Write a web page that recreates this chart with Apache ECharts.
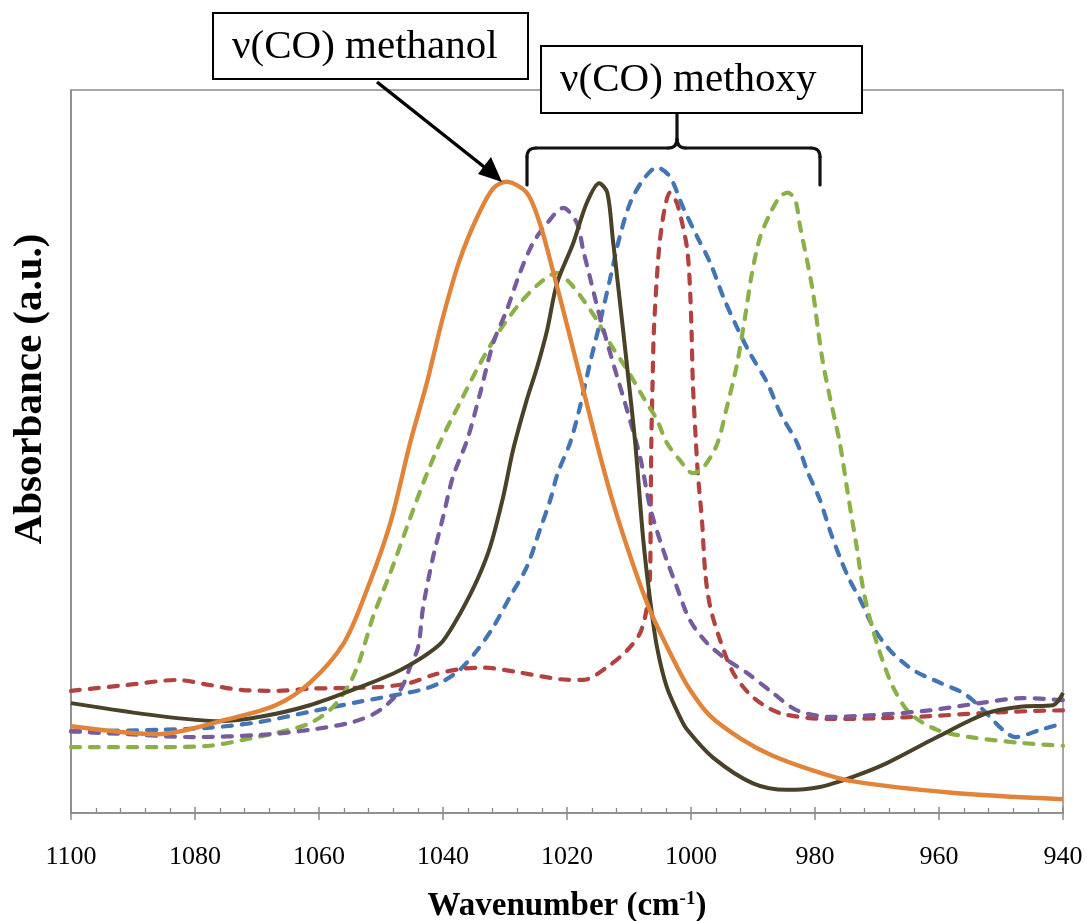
<!DOCTYPE html>
<html>
<head>
<meta charset="utf-8">
<script src="https://cdn.jsdelivr.net/npm/echarts@6/dist/echarts.min.js"></script>
<style>
  html, body { margin: 0; padding: 0; background: #fff; }
  #chart { width: 1087px; height: 921px; }
</style>
</head>
<body>
<div id="chart"></div>
<script>
// Infrared spectra in the C–O stretching region (absorbance in arbitrary units)
const xTicks = [1100, 1080, 1060, 1040, 1020, 1000, 980, 960, 940];

// methanol (solid orange)
const wnOrange = [1100,1086,1075,1067,1061.5,1056,1052.3,1048.5,1045.3,1042.6,1040,1037.3,1034.5,1031.9,1029.8,1026.5,1024.4,1022.3,1020,1017.5,1015,1012.6,1009.4,1006.6,1003,1000.5,997,992,987,980,974,958,940];
const absOrange = [12.0,10.9,12.9,14.9,18.0,23.5,30.8,40.1,51.2,59.5,68.6,76.5,82.4,86.4,87.3,85.8,81.6,75.1,67.5,59.0,50.5,43.0,34.5,28.0,21.5,17.5,13.5,10.3,8.0,5.8,4.4,2.8,1.9];

// solid dark olive
const wnDark = [1100,1085.6,1076,1069.5,1061.5,1053.4,1048,1045.3,1042.5,1040,1037.3,1034.5,1032.4,1030.3,1028.7,1026.5,1024.8,1023.2,1021.6,1019,1016.8,1014.8,1013.5,1012.6,1011.5,1010.3,1009,1007.7,1006.6,1005.5,1003.9,1001.8,1000.6,996.5,990,984.5,979.2,973.9,968.4,960.3,952.3,946.9,941.6,940];
const absDark = [15.2,13.4,12.7,13.3,14.9,17.4,19.3,20.5,22.0,23.8,27.5,32.2,36.8,43.7,50.2,57.1,61.7,66.8,73.3,78.8,84.4,87.1,85.8,79.3,71.0,61.7,51.2,37.8,29.5,23.0,17.4,13.3,11.5,7.7,4.1,3.2,3.6,5.0,6.9,10.5,13.8,14.7,14.9,16.6];

// dashed purple
const wnPurple = [1100,1091,1080.3,1069.5,1061.5,1054.5,1050.2,1046.9,1045.3,1044,1043.2,1041.6,1040,1038.4,1036.1,1034,1031.9,1029.7,1027.6,1025.5,1023.2,1020.6,1018.4,1017.4,1016.3,1015,1013.5,1011.9,1010.3,1008.2,1006.6,1004.5,1002.3,1000.2,997.4,994.2,991,986.8,982.9,977.6,969.5,961.5,953.4,946.5,940];
const absPurple = [11.3,10.9,10.5,10.8,11.5,12.6,14.2,17.0,20.2,23.0,28.5,35.4,40.9,46.5,51.6,58.1,65.0,69.6,74.7,78.8,81.6,83.7,81.6,77.9,74.1,69.6,65.0,60.3,55.7,49.2,42.3,36.4,31.3,26.7,23.5,21.2,19.4,16.6,14.2,13.3,13.6,14.2,15.2,15.9,15.6];

// dashed green
const wnGreen = [1100,1085.6,1077.6,1072.3,1066.8,1061.5,1057.7,1055,1053.4,1051.3,1048.5,1045.8,1043.2,1040.5,1037.3,1034,1030.8,1027.6,1024.4,1021.6,1019.5,1017.4,1015.2,1013.1,1010.3,1007.7,1005.5,1003.9,1001.8,999.7,998.1,995.8,994.2,992.6,991.3,990.2,988.9,987.2,985.6,984.4,983.2,982.4,981.3,980.3,979.5,978.7,977.6,976,974.8,974,973.2,972.3,971.1,969.5,967.4,964.7,960.3,955,946.9,940];
const absGreen = [9.1,9.1,9.3,10.1,11.1,12.4,14.7,18.0,21.2,27.1,33.2,39.6,45.6,51.2,56.7,62.2,66.8,70.5,73.3,74.7,73.3,71.0,68.2,65.0,61.3,57.5,54.4,51.2,48.8,47.0,47.7,51.0,56.2,62.0,68.5,74.5,79.5,83.0,85.3,85.8,84.8,81.1,76.5,71.9,66.8,62.2,57.5,51.2,44.7,40.5,36.4,31.3,26.7,22.1,17.4,13.8,11.5,10.5,9.7,9.3];

// dashed blue
const wnBlue = [1100,1085.6,1077.6,1069.5,1061.5,1053.4,1045.3,1042.5,1040,1037.3,1034.5,1031.9,1029.2,1026.5,1024.4,1022.7,1021.5,1019.5,1017.9,1016.3,1014.7,1013.1,1011.5,1009.8,1007.7,1005.5,1003.4,1001.3,999,996.9,994.8,992.6,990.5,987.7,985.6,982.9,981.3,979.2,977.6,976,974.4,972.7,970.6,967.9,964.2,959.8,956.1,953.4,949.7,947.7,943.7,940];
const absBlue = [11.3,11.5,11.8,12.6,14.0,15.4,16.7,17.3,18.2,19.8,22.5,25.7,29.9,34.0,39.1,43.3,47.0,51.2,56.2,62.2,67.8,73.7,79.7,84.4,87.6,89.3,88.0,83.8,79.7,76.1,71.4,67.2,63.6,59.5,55.3,51.2,47.4,43.3,39.1,35.4,32.2,29.5,25.7,22.5,19.8,18.0,16.6,14.7,11.5,10.5,11.5,12.4];

// dashed red
const wnRed = [1100,1091,1082.9,1077.6,1072.3,1066.8,1061.5,1050.6,1045.3,1041.6,1037.3,1033.5,1028.1,1021.1,1017.4,1013.5,1010.3,1008.2,1007.1,1006.6,1006.5,1006.4,1006.2,1006.0,1005.5,1005,1004.2,1003.4,1002.3,1001.3,1000.6,1000.2,999.9,999.7,999.2,998.9,998.2,997.7,996.9,995.3,993.2,990,985.6,977.6,969.5,961.5,953.4,945.3,940];
const absRed = [16.9,17.7,18.4,17.7,17.0,16.9,17.2,17.4,18.0,19.1,19.9,20.1,19.5,18.5,18.4,20.2,22.5,24.9,28.5,33.2,42.3,51.2,59.5,66.4,74.1,79.3,83.8,85.8,84.4,81.1,77.9,73.3,66.4,59.5,51.2,47.0,40.1,33.2,28.5,23.9,19.4,16.0,13.8,13.0,13.1,13.4,13.8,14.1,14.2];

const pairs = (xs, ys) => xs.map((x, i) => [x, ys[i]]);

const serif = "'Liberation Serif', 'Times New Roman', serif";
const axisGrey = '#8a8a8a';

function dashed(name, xs, ys, color) {
  return {
    name, type: 'line', data: pairs(xs, ys), showSymbol: false,
    smooth: 0.3,
    lineStyle: { color, width: 4.2, type: [9, 10], cap: 'round', join: 'round' }
  };
}
function solid(name, xs, ys, color, width) {
  return {
    name, type: 'line', data: pairs(xs, ys), showSymbol: false,
    smooth: 0.3,
    lineStyle: { color, width, type: 'solid', join: 'round' }
  };
}

const chart = echarts.init(document.getElementById('chart'), null, { renderer: 'canvas' });

const bracketStyle = { stroke: '#111', lineWidth: 3.2, fill: null, lineCap: 'round' };
const seg = (x1, y1, x2, y2) => ({ type: 'line', z: 99, shape: { x1, y1, x2, y2 }, style: bracketStyle });
const corner = (x1, y1, cx, cy, x2, y2) => ({ type: 'bezierCurve', z: 99, shape: { x1, y1, cpx1: cx, cpy1: cy, x2, y2 }, style: bracketStyle });

chart.setOption({
  animation: false,
  backgroundColor: '#ffffff',
  grid: {
    show: true, borderColor: axisGrey, borderWidth: 1.5,
    left: 71, right: 24, top: 90, bottom: 108,
    outerBoundsMode: 'none', containLabel: false
  },
  xAxis: [{
    type: 'value', min: 940, max: 1100, interval: 20, inverse: true,
    axisLine: { show: true, lineStyle: { color: axisGrey, width: 1.5 } },
    axisTick: { show: true, length: 7, lineStyle: { color: axisGrey, width: 1.5 } },
    minorTick: { show: false },
    splitLine: { show: false },
    axisLabel: {
      margin: 31, color: '#000', fontFamily: serif, fontSize: 26,
      formatter: v => xTicks.includes(v) ? String(v) : ''
    },
    name: '{a|Wavenumber (cm}{s|-1}{a|)}',
    nameLocation: 'middle', nameGap: 77,
    nameTextStyle: {
      rich: {
        a: { fontFamily: serif, fontWeight: 'bold', fontSize: 33, color: '#000' },
        s: { fontFamily: serif, fontWeight: 'bold', fontSize: 19, color: '#000', verticalAlign: 'top', padding: [0, 0, 14, 0] }
      }
    }
  }, {
    // inner ticks: major ticks cross the axis, minor ticks sit inside
    type: 'value', min: 940, max: 1100, interval: 20, inverse: true, position: 'bottom',
    axisLine: { show: false },
    axisTick: { show: true, inside: true, length: 6, lineStyle: { color: axisGrey, width: 1.5 } },
    minorTick: { show: true, splitNumber: 5, length: 5, lineStyle: { color: axisGrey, width: 1.3 } },
    axisLabel: { show: false },
    splitLine: { show: false }
  }],
  yAxis: {
    type: 'value', min: 0, max: 100,
    axisLine: { show: true, lineStyle: { color: axisGrey, width: 1.5 } },
    axisTick: { show: false },
    axisLabel: { show: false },
    splitLine: { show: false }
  },
  series: [
    dashed('blue', wnBlue, absBlue, '#4275B4'),
    dashed('red', wnRed, absRed, '#B2423F'),
    dashed('green', wnGreen, absGreen, '#8CB048'),
    dashed('purple', wnPurple, absPurple, '#765B9E'),
    solid('dark', wnDark, absDark, '#494228', 4),
    solid('methanol', wnOrange, absOrange, '#E2833A', 4.4)
  ],
  graphic: [
    // y-axis title
    {
      type: 'text', x: 30, y: 389, rotation: Math.PI / 2, z: 100,
      style: {
        text: 'Absorbance (a.u.)', fill: '#000',
        font: 'bold 41px ' + serif, align: 'center', verticalAlign: 'middle'
      }
    },
    // methanol callout
    {
      type: 'rect', z: 100, shape: { x: 213, y: 13, width: 315, height: 66 },
      style: { fill: '#fff', stroke: '#000', lineWidth: 2 }
    },
    {
      type: 'text', z: 101, x: 232, y: 47,
      style: { text: 'ν(CO) methanol', fill: '#000', font: '41px ' + serif, align: 'left', verticalAlign: 'middle' }
    },
    {
      type: 'line', z: 100, shape: { x1: 377, y1: 82, x2: 488, y2: 170 },
      style: { stroke: '#000', lineWidth: 3.5 }
    },
    {
      type: 'polygon', z: 100, shape: { points: [[502, 182], [478, 174], [491, 157]] },
      style: { fill: '#000' }
    },
    // methoxy bracket
    seg(527, 185, 527, 157),
    corner(527, 157, 527, 148, 536, 148),
    seg(536, 148, 668, 148),
    corner(668, 148, 677, 148, 677, 139),
    corner(677, 139, 677, 148, 686, 148),
    seg(686, 148, 811, 148),
    corner(811, 148, 820, 148, 820, 157),
    seg(820, 157, 820, 185),
    seg(677, 139, 677, 113),
    {
      type: 'rect', z: 100, shape: { x: 541, y: 46, width: 321, height: 67 },
      style: { fill: '#fff', stroke: '#000', lineWidth: 2 }
    },
    {
      type: 'text', z: 101, x: 560, y: 80,
      style: { text: 'ν(CO) methoxy', fill: '#000', font: '41px ' + serif, align: 'left', verticalAlign: 'middle' }
    }
  ]
});
</script>
</body>
</html>
